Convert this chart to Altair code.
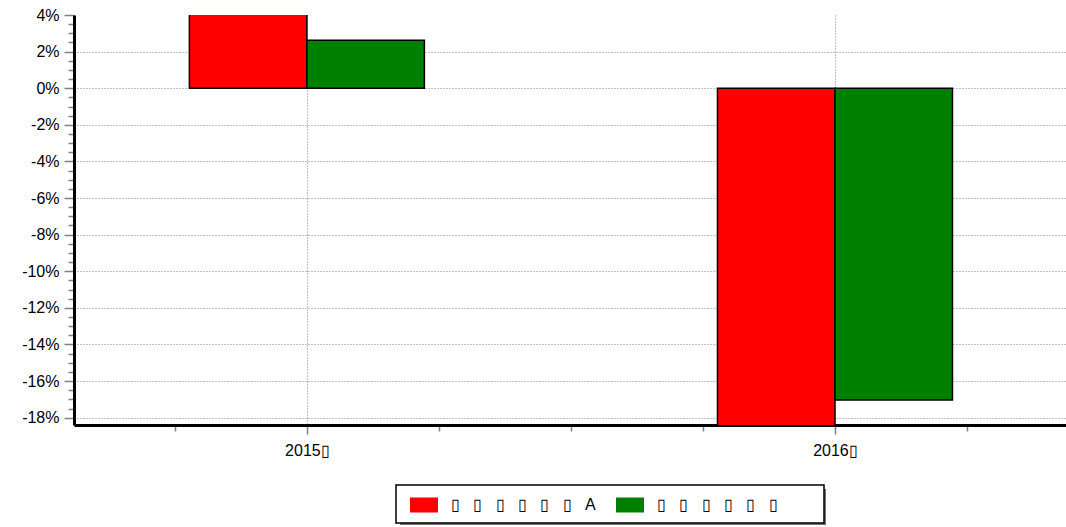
import altair as alt
import pandas as pd

years = [2015, 2016]
year_labels = ["2015▯", "2016▯"]
SP = "\u2002\u2005\u200a"
series = [SP.join(["▯"] * 6 + ["A"]), SP.join(["▯"] * 6) + "\u2800\u2800\u2800"]
values_a = [4.3, -18.6]
values_b = [2.62, -17.03]
colors = ["#ff0000", "#008000"]

rows = []
for i, yr in enumerate(years):
    rows.append({"year": yr, "series": series[0], "idx": 0, "value": values_a[i]})
    rows.append({"year": yr, "series": series[1], "idx": 1, "value": values_b[i]})
df = pd.DataFrame(rows)

W = 0.2225
x_ticks = [2014.75, 2015, 2015.25, 2015.5, 2015.75, 2016, 2016.25]
x_label_expr = " : ".join(
    f"datum.value == {yr} ? '{lab}'" for yr, lab in zip(years, year_labels)
) + " : ''"
x_major = " || ".join(f"datum.value == {yr}" for yr in years)

y_ticks = [v / 2 for v in range(-36, 9)]
y_major = "abs(datum.value % 2) < 0.01"

font = "Liberation Sans"

axis_common = dict(
    title=None,
    labelFont=font,
    labelFontSize=16,
    labelColor="black",
    domainColor="black",
    domainWidth=3,
    tickColor="#808080",
    tickWidth=1.5,
    gridColor="#808080",
    gridDash=[1, 2],
    gridWidth=1,
)

bars = alt.Chart(df).transform_calculate(
    x0=f"datum.year + (datum.idx - 1) * {W}",
    x1=f"datum.year + datum.idx * {W}",
).mark_bar(stroke="black", strokeWidth=1.5, clip=True).encode(
    x=alt.X(
        "x0:Q",
        scale=alt.Scale(domain=[2014.559, 2016.4375], nice=False, zero=False),
        axis=alt.Axis(
            values=x_ticks,
            labelExpr=x_label_expr,
            gridOpacity={"condition": {"test": x_major, "value": 1}, "value": 0},
            tickSize={"condition": {"test": x_major, "value": 9}, "value": 6},
            labelPadding=8,
            **axis_common,
        ),
    ),
    x2="x1:Q",
    y=alt.Y(
        "value:Q",
        scale=alt.Scale(domain=[-18.4, 4], nice=False, zero=False),
        axis=alt.Axis(
            values=y_ticks,
            labelExpr=f"({y_major}) ? datum.value + '%' : ''",
            gridOpacity={"condition": {"test": f"({y_major}) && datum.value < 3.9", "value": 1}, "value": 0},
            tickSize={"condition": {"test": y_major, "value": 10}, "value": 6},
            labelPadding=5,
            **axis_common,
        ),
    ),
    y2=alt.datum(0),
    color=alt.Color(
        "series:N",
        scale=alt.Scale(domain=series, range=colors),
        sort=series,
        legend=alt.Legend(
            title=None,
            orient="none",
            legendX=322,
            legendY=470,
            direction="horizontal",
            fillColor="white",
            strokeColor="black",
            padding=10,
            symbolType="M-1.4,-0.75L1.4,-0.75L1.4,0.75L-1.4,0.75Z",
            symbolSize=400,
            symbolStrokeWidth=0,
            symbolOpacity=1,
            symbolOffset=8,
            labelFont=font,
            labelFontSize=16,
            labelColor="black",
            columnPadding=16,
            labelOffset=17,
            labelLimit=400,
        ),
    ),
)

shadow_df = pd.DataFrame({"k": [0]})
shadow = alt.Chart(shadow_df).mark_rect(color="#555555", opacity=0.8).encode(
    x=alt.value(326), x2=alt.value(752), y=alt.value(474), y2=alt.value(510)
)

chart = alt.layer(bars, shadow).properties(
    width=992,
    height=410,
    background="white",
    autosize=alt.AutoSizeParams(type="none"),
    padding={"left": 74, "top": 15, "right": 0, "bottom": 102},
).configure_view(stroke=None).configure_legend(strokeWidth=1.5)

chart.save("out.html", embed_options={"renderer": "svg", "actions": False})
